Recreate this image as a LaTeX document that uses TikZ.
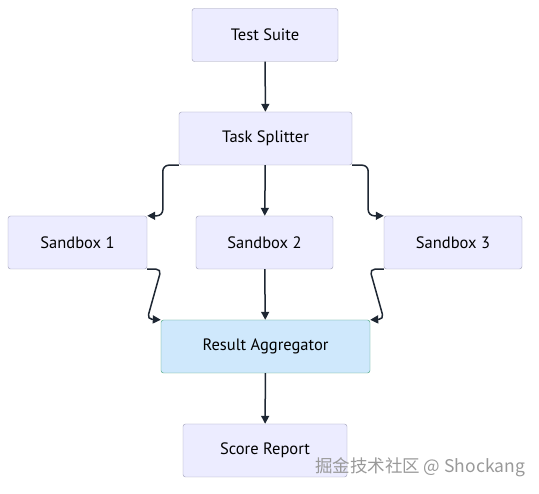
\documentclass[tikz,border=0pt]{standalone}
\usepackage{fontspec}
\setmainfont{PT Sans}
\newfontfamily\cjk{Noto Sans CJK SC}
\usetikzlibrary{arrows.meta,positioning}
\definecolor{boxfill}{HTML}{ECECFF}
\definecolor{boxline}{HTML}{9C9CB4}
\definecolor{aggfill}{HTML}{CFE8FC}
\definecolor{aggline}{HTML}{3C9F72}
\definecolor{arrowcol}{HTML}{1E2733}
\begin{document}
\begin{tikzpicture}[x=1pt,y=-1pt,
  box/.style={rectangle,rounded corners=2.5pt,draw=boxline,fill=boxfill,minimum height=53pt,text=black,font=\fontsize{16.5}{18}\selectfont},
  aggbox/.style={box,draw=aggline,fill=aggfill},
  line/.style={draw=arrowcol,line width=1.5pt,-{Triangle[length=8pt,width=8pt]}}]
\useasboundingbox (0,0) rectangle (539,494);
\node[box,minimum width=146pt] (a) at (265,35){Test Suite};
\node[box,minimum width=173pt] (b) at (265.5,138.5){Task Splitter};
\node[box,minimum width=139pt] (c) at (77.5,242.5){Sandbox 1};
\node[box,minimum width=137pt] (d) at (264.5,242.5){Sandbox 2};
\node[box,minimum width=138pt] (e) at (453,242.5){Sandbox 3};
\node[aggbox,minimum width=209pt] (f) at (265.5,346.5){Result Aggregator};
\node[box,minimum width=164pt] (g) at (265,450.5){Score Report};
    \draw[line] (a) -- (b);
      \draw[line] (b) -- (d);
        \draw[line] (d) -- (f);
          \draw[line] (f) -- (g);
    \draw[line,rounded corners=6pt] (b.south west) -- ++(-16,0) |- (c.north east);
      \draw[line,rounded corners=6pt] (b.south east) -- ++(16,0) |- (e.north west);
        \draw[line,rounded corners=5pt] (c.south east) -- ++(14,0) -- ++(-14,50) -- (f.north west);
          \draw[line,rounded corners=5pt] (e.south west) -- ++(-14,0) -- ++(14,50) -- (f.north east);
\node[text=gray!80] (w) at (420,467){\cjk\fontsize{17.5}{20}\selectfont 掘金技术社区 @ Shockang};
\end{tikzpicture}
\end{document}
